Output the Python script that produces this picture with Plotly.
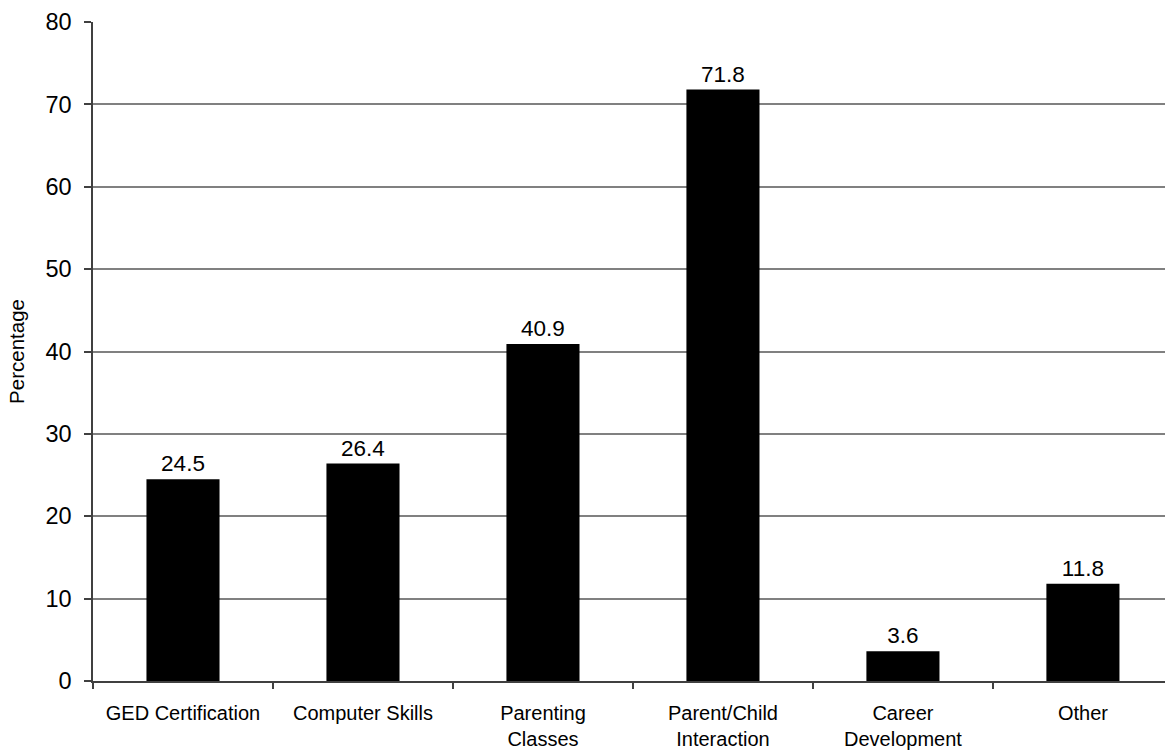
import plotly.graph_objects as go

categories = ["GED Certification", "Computer Skills", "Parenting<br>Classes",
              "Parent/Child<br>Interaction", "Career<br>Development", "Other"]
percentages = [24.5, 26.4, 40.9, 71.8, 3.6, 11.8]
y_ticks = [0, 10, 20, 30, 40, 50, 60, 70, 80]

FONT = "Liberation Sans, Arial, sans-serif"

fig = go.Figure(
    go.Bar(
        x=categories,
        y=percentages,
        marker=dict(color="#000000", line=dict(width=0)),
        text=[f"{v:.1f}" for v in percentages],
        textposition="outside",
        textfont=dict(family=FONT, size=22.5, color="#000000"),
        cliponaxis=False,
    )
)

fig.update_layout(
    width=1165,
    height=753,
    margin=dict(l=93, r=0, t=22, b=72),
    paper_bgcolor="white",
    plot_bgcolor="white",
    bargap=0.594,
    showlegend=False,
    font=dict(family=FONT, color="#000000"),
)

fig.update_xaxes(
    type="category",
    range=[-0.5, 5.456],
    tickson="boundaries",
    ticks="outside",
    ticklen=6,
    tickcolor="#404040",
    tickwidth=1.5,
    showline=True,
    linecolor="#404040",
    linewidth=1.5,
    showgrid=False,
    ticklabelstandoff=13,
    tickfont=dict(family=FONT, size=20, color="#000000"),
)

fig.update_yaxes(
    range=[0, 80],
    tickvals=y_ticks,
    ticks="outside",
    ticklen=7,
    tickcolor="#404040",
    tickwidth=1.5,
    showline=True,
    linecolor="#404040",
    linewidth=1.5,
    showgrid=True,
    gridcolor="#808080",
    gridwidth=1.5,
    zeroline=False,
    ticklabelstandoff=8,
    tickfont=dict(family=FONT, size=23.5, color="#000000"),
    title=dict(text="Percentage", font=dict(family=FONT, size=20.5, color="#000000"), standoff=15),
)

fig.write_html("out.html")
